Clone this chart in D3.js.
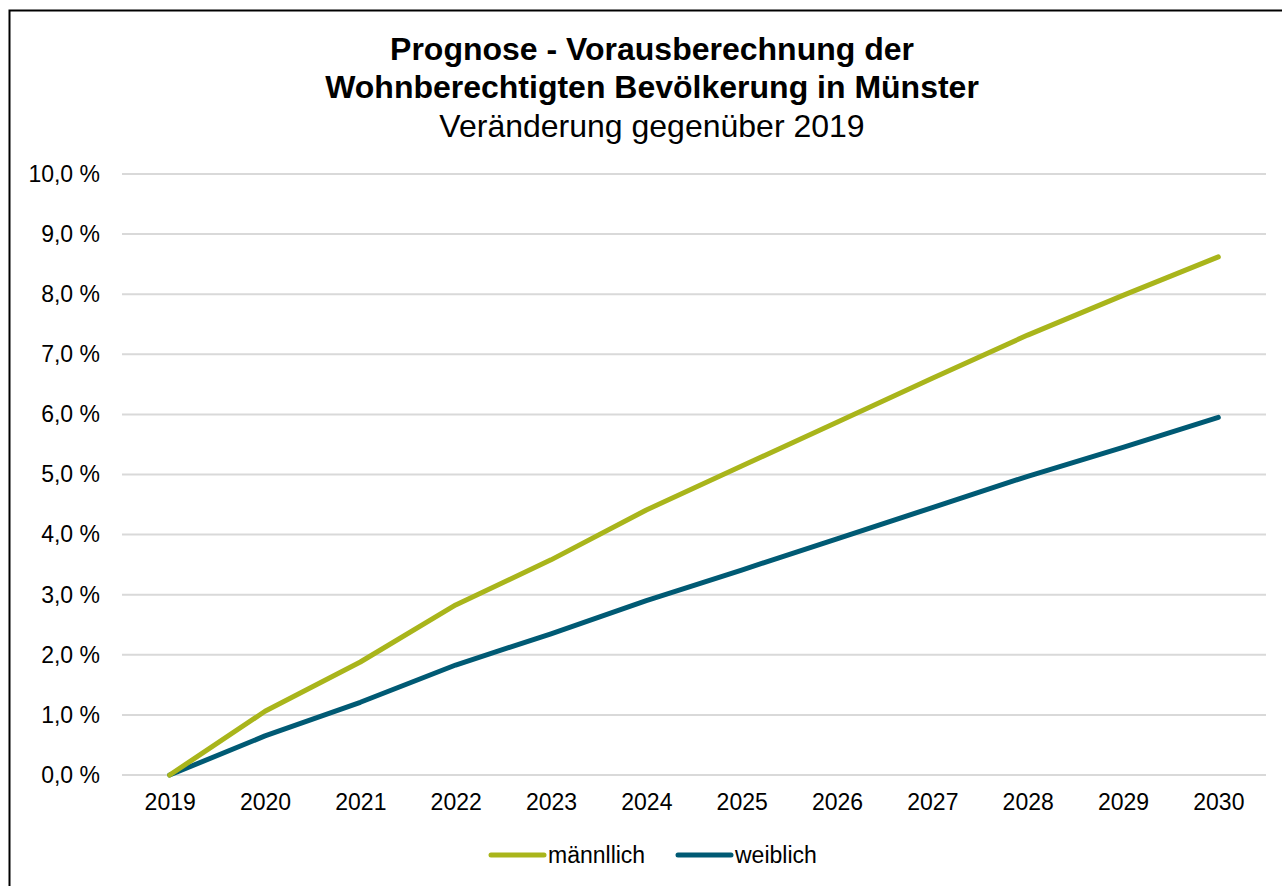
<!DOCTYPE html>
<html>
<head>
<meta charset="utf-8">
<script src="https://cdn.jsdelivr.net/npm/d3@7"></script>
<style>
  body { margin: 0; background: #fff; }
  svg { display: block; font-family: "Liberation Sans", Arial, sans-serif; }
</style>
</head>
<body>
<div id="chart"></div>
<script>
// data
var years = [2019, 2020, 2021, 2022, 2023, 2024, 2025, 2026, 2027, 2028, 2029, 2030];
var maennlich = [0, 1.06, 1.88, 2.83, 3.58, 4.41, 5.14, 5.87, 6.6, 7.32, 7.98, 8.62];
var weiblich = [0, 0.65, 1.21, 1.83, 2.35, 2.9, 3.41, 3.93, 4.45, 4.97, 5.45, 5.95];
var yTicks = [0, 1, 2, 3, 4, 5, 6, 7, 8, 9, 10];
var seriesNames = ["männllich", "weiblich"];
var seriesColors = ["#a9b51b", "#005a74"];

var W = 1282, H = 886;
var svg = d3.select("#chart").append("svg")
    .attr("width", W)
    .attr("height", H);

// chart frame
svg.append("rect")
    .attr("x", 9.5).attr("y", 10.5)
    .attr("width", W).attr("height", H)
    .attr("fill", "none")
    .attr("stroke", "#000")
    .attr("stroke-width", 2);

// titles
svg.append("text")
    .attr("x", 652).attr("y", 60)
    .attr("text-anchor", "middle")
    .attr("font-size", 32).attr("font-weight", "bold")
    .text("Prognose - Vorausberechnung der");
svg.append("text")
    .attr("x", 652).attr("y", 98)
    .attr("text-anchor", "middle")
    .attr("font-size", 32).attr("font-weight", "bold")
    .text("Wohnberechtigten Bevölkerung in Münster");
svg.append("text")
    .attr("x", 652).attr("y", 137)
    .attr("text-anchor", "middle")
    .attr("font-size", 32)
    .text("Veränderung gegenüber 2019");

var left = 122, right = 1266;
var x = d3.scalePoint()
    .domain(years)
    .range([left, right])
    .padding(0.5);
var y = d3.scaleLinear()
    .domain([0, 10])
    .range([775, 174]);

// gridlines
svg.append("g")
  .selectAll("line")
  .data(yTicks)
  .join("line")
    .attr("x1", left).attr("x2", right)
    .attr("y1", function(d) { return y(d); })
    .attr("y2", function(d) { return y(d); })
    .attr("stroke", "#d9d9d9")
    .attr("stroke-width", 2);

// y axis labels
var fmt = function(d) { return d.toFixed(1).replace(".", ",") + " %"; };
var yAxis = svg.append("g")
    .attr("transform", "translate(" + left + ",0)")
    .call(d3.axisLeft(y).tickValues(yTicks).tickFormat(fmt).tickSize(0).tickPadding(22));
yAxis.select(".domain").remove();
yAxis.selectAll("text")
    .attr("font-size", 23)
    .attr("font-family", "Liberation Sans, Arial, sans-serif")
    .attr("fill", "#000");

// x axis labels
var xAxis = svg.append("g")
    .attr("transform", "translate(0," + y(0) + ")")
    .call(d3.axisBottom(x).tickSize(0).tickPadding(19));
xAxis.select(".domain").remove();
xAxis.selectAll("text")
    .attr("font-size", 23)
    .attr("font-family", "Liberation Sans, Arial, sans-serif")
    .attr("fill", "#000");

// lines
var line = d3.line()
    .x(function(d, i) { return x(years[i]); })
    .y(function(d) { return y(d); });

[weiblich, maennlich].forEach(function(s, k) {
    svg.append("path")
        .datum(s)
        .attr("fill", "none")
        .attr("stroke", seriesColors[1 - k])
        .attr("stroke-width", 5)
        .attr("stroke-linecap", "round")
        .attr("stroke-linejoin", "round")
        .attr("d", line);
});

// legend
var legendX = [491, 678];
seriesNames.forEach(function(name, i) {
    var g = svg.append("g").attr("transform", "translate(" + legendX[i] + ",855)");
    g.append("line")
        .attr("x1", 0).attr("x2", 53)
        .attr("stroke", seriesColors[i])
        .attr("stroke-width", 5)
        .attr("stroke-linecap", "round");
    g.append("text")
        .attr("x", 57).attr("y", 8)
        .attr("font-size", 23)
        .text(name);
});
</script>
</body>
</html>
